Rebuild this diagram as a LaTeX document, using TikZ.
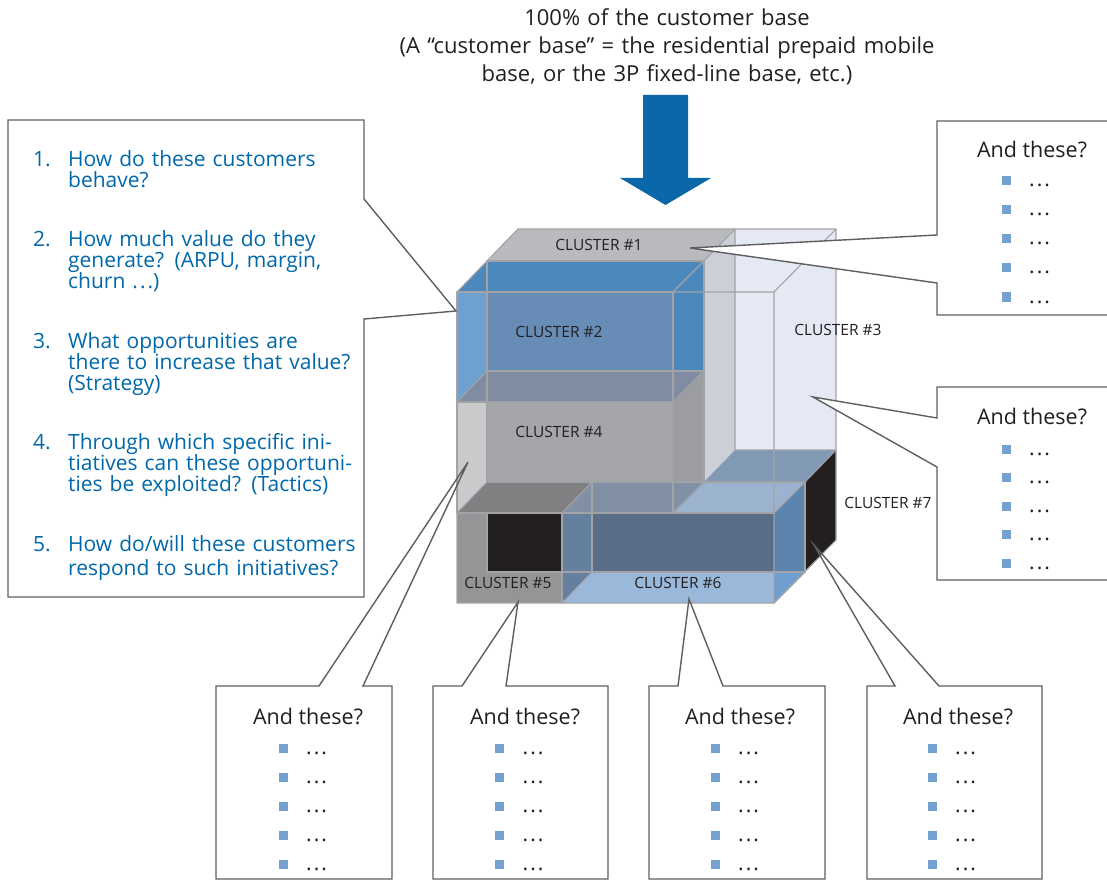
\documentclass[tikz,border=0pt]{standalone}
\usepackage{fontspec}
\setmainfont{Open Sans}
\definecolor{ink}{HTML}{231F20}
\definecolor{qblue}{HTML}{0068AA}
\definecolor{bulletblue}{HTML}{74A1CF}
\definecolor{boxgray}{HTML}{5E5E5E}
\definecolor{edgegray}{HTML}{A2A3A6}
% face colours of the stacked clusters
\definecolor{cOneTop}{HTML}{B9BABE}
\definecolor{cThreeFace}{HTML}{E4E9F3}
\definecolor{cThreeSide}{HTML}{CBD0D8}
\definecolor{cSevenTop}{HTML}{8299B6}
\definecolor{cBlack}{HTML}{231F20}
\definecolor{cTwoRim}{HTML}{4B88BC}
\definecolor{cTwoFront}{HTML}{678DB7}
\definecolor{cTwoLeft}{HTML}{6FA1D0}
\definecolor{cFourRight}{HTML}{9B9DA2}
\definecolor{cFourFront}{HTML}{A5A6A9}
\definecolor{cFourLeft}{HTML}{C9CACC}
\definecolor{cFourTop}{HTML}{7F8CA2}
\definecolor{cFiveTop}{HTML}{808082}
\definecolor{cFiveFront}{HTML}{959597}
\definecolor{cSixTop}{HTML}{9BB3CF}
\definecolor{cSixTopDim}{HTML}{8190A5}
\definecolor{cSixRight}{HTML}{5B84AE}
\definecolor{cSixFloor}{HTML}{9AB8DA}
\definecolor{cSixBack}{HTML}{5B6E87}
\definecolor{cSixLeft}{HTML}{657F9E}
\definecolor{cSixFloorSide}{HTML}{6E9DD0}
\definecolor{arrowblue}{HTML}{0A68AA}

% widely spaced ellipsis
\newcommand{\wdots}{.\kern2pt.\kern2pt.}
% one "And these?" call-out body: name, title x, title baseline, bullet x, first bullet y, bullet step
\newcommand{\andthese}[6]{%
  \node[asktitle] (#1-t) at (#2,#3) {And these?};
  \foreach \k in {0,...,4}{%
    \node[bsq] (#1-b\k) at (#4,{#5+\k*#6}) {};
    \node[dotsty] (#1-d\k) at ({#4+23},{#5+\k*#6+6}) {\wdots};
  }%
}

\begin{document}
\lineskiplimit=-30pt
\begin{tikzpicture}[x=1pt,y=-1pt,
  edge/.style={draw=edgegray,line width=1.1pt,line join=round},
  clabel/.style={font=\fontsize{15.5}{17}\selectfont,text=ink,inner sep=0pt},
  callout/.style={draw=boxgray,line width=1.4pt,line join=miter,fill=white},
  calloutline/.style={draw=boxgray,line width=1.4pt,line join=miter},
  qnum/.style={font=\fontsize{21}{21}\selectfont,text=qblue,anchor=base west,inner sep=0pt},
  qtext/.style={font=\fontsize{21}{21}\selectfont,text=qblue,anchor=base west,inner sep=0pt,align=left,text width=300pt},
  asktitle/.style={font=\fontsize{21.5}{22}\selectfont,text=ink,anchor=base,inner sep=0pt},
  bsq/.style={rectangle,fill=bulletblue,minimum size=9pt,inner sep=0pt,draw=none},
  dotsty/.style={font=\fontsize{21}{21}\selectfont,text=ink,anchor=base west,inner sep=0pt},
  headline/.style={font=\fontsize{22}{28}\selectfont,text=ink,anchor=base,inner sep=0pt,align=center,text width=640pt}
]
\useasboundingbox (0,0) rectangle (1107,882);

% ---------- heading and arrow ----------
\node[headline] (head) at (667,26) {100\% of the customer base\\(A “customer base” = the residential prepaid mobile\\base, or the 3P fixed-line base, etc.)};
\fill[arrowblue] (643,95) -- (688,95) -- (688,178) -- (711,178) -- (665.5,205) -- (620,178) -- (643,178) -- cycle;

% ---------- the cube of clusters ----------
% cluster 3: tall column on the right
\fill[cThreeFace] (673,292) -- (735,229) -- (836,229) -- (836,450) -- (774,513) -- (673,513) -- cycle;
\fill[cThreeSide] (704,261) -- (735,229) -- (735,450) -- (704,482) -- cycle;
% cluster 1: top of the back layer
\fill[cOneTop] (487,261) -- (518,229) -- (735,229) -- (704,261) -- cycle;
% cluster 7: bottom of the back layer
\fill[cSevenTop] (704,482) -- (735,450) -- (836,450) -- (805,482) -- cycle;
\fill[cBlack] (805,482) -- (836,450) -- (836,540) -- (805,572) -- cycle;
% cluster 2
\fill[cTwoRim] (457,292) -- (487,261) -- (704,261) -- (704,371) -- (673,402) -- (457,402) -- cycle;
\fill[cTwoFront] (457,292) rectangle (673,402);
\fill[cTwoLeft] (457,292) -- (487,292) -- (487,371) -- (457,402) -- cycle;
% cluster 4
\fill[cFourRight] (673,402) -- (704,371) -- (704,482) -- (673,513) -- cycle;
\fill[cFourFront] (457,402) rectangle (673,513);
\fill[cFourLeft] (457,402) -- (487,371) -- (487,482) -- (457,513) -- cycle;
\fill[cFourTop] (457,402) -- (487,371) -- (704,371) -- (673,402) -- cycle;
% tops of clusters 5 and 6
\fill[cFiveTop] (457,513) -- (487,482) -- (592,482) -- (562,513) -- cycle;
\fill[cSixTop] (562,513) -- (592,482) -- (805,482) -- (774,513) -- cycle;
\fill[cSixTopDim] (562,513) -- (592,482) -- (704,482) -- (673,513) -- cycle;
% cluster 5
\fill[cFiveFront] (457,513) rectangle (562,603);
\fill[cBlack] (487,513) rectangle (562,572);
% cluster 6
\fill[cSixRight] (774,513) -- (805,482) -- (805,572) -- (774,603) -- cycle;
\fill[cSixFloor] (562,513) rectangle (774,603);
\fill[cSixBack] (592,513) rectangle (774,572);
\fill[cSixLeft] (562,513) -- (592,513) -- (592,572) -- (562,603) -- cycle;
\fill[cSixFloor] (592,572) -- (774,572) -- (774,603) -- (562,603) -- cycle;
\fill[cSixFloorSide] (774,572) -- (805,572) -- (774,603) -- cycle;

% edges
\draw[edge] (457,292) -- (518,229) -- (836,229) -- (836,540) -- (774,603) -- (457,603) -- cycle;
\draw[edge] (487,261) rectangle (704,371);
\draw[edge] (457,292) rectangle (673,402);
\draw[edge] (704,261) -- (673,292) (704,371) -- (673,402) (487,371) -- (457,402);
\draw[edge] (735,229) -- (704,261) (735,229) -- (735,450);
\draw[edge] (673,292) -- (774,292) -- (836,229) (774,292) -- (774,603);
\draw[edge] (487,371) rectangle (704,482);
\draw[edge] (457,402) rectangle (673,513);
\draw[edge] (487,482) -- (457,513) (704,482) -- (673,513);
\draw[edge] (457,513) -- (774,513) (562,513) -- (562,603);
\draw[edge] (487,513) -- (487,572) -- (805,572) -- (805,482) -- (704,482);
\draw[edge] (592,482) -- (592,572);
\draw[edge] (592,482) -- (562,513) (592,572) -- (562,603) (805,572) -- (774,603) (805,482) -- (774,513);
\draw[edge] (735,450) -- (836,450) (805,482) -- (836,450);

% cluster labels
\node[clabel] (k1) at (599,245) {CLUSTER \#1};
\node[clabel] (k2) at (559,332) {CLUSTER \#2};
\node[clabel] (k3) at (838,330) {CLUSTER \#3};
\node[clabel] (k4) at (559,432) {CLUSTER \#4};
\node[clabel] (k5) at (508,583) {CLUSTER \#5};
\node[clabel] (k6) at (678,583) {CLUSTER \#6};
\node[clabel] (k7) at (888,503) {CLUSTER \#7};

% ---------- call-outs ----------
\coordinate (tipQ) at (456,311);
\coordinate (tipA) at (690,248);
\coordinate (tipB) at (813,397);
\coordinate (tipC) at (468,462);
\coordinate (tipD) at (518,602);
\coordinate (tipE) at (689,599);
\coordinate (tipF) at (814,545);

% questions
\path[callout] (8,120) -- (364,120) -- (364,199) -- (tipQ) -- (364,319) -- (364,597) -- (8,597) -- cycle;
\node[qnum] (n1) at (33,167) {1.};
\node[qtext] (q1) at (68,167) {How do these customers\\behave?};
\node[qnum] (n2) at (33,247) {2.};
\node[qtext] (q2) at (68,247) {How much value do they\\generate? (ARPU, margin,\\churn \wdots)};
\node[qnum] (n3) at (33,348) {3.};
\node[qtext] (q3) at (68,348) {What opportunities are\\there to increase that value?\\(Strategy)};
\node[qnum] (n4) at (33,449) {4.};
\node[qtext] (q4) at (68,449) {Through which specific ini-\\tiatives can these opportuni-\\ties be exploited? (Tactics)};
\node[qnum] (n5) at (33,551) {5.};
\node[qtext,font=\fontsize{21}{24}\selectfont] (q5) at (68,551) {How do/will these customers\\respond to such initiatives?};

% right-hand call-outs
\path[callout] (1130,121) -- (937,121) -- (937,235) -- (tipA) -- (937,283) -- (937,315) -- (1130,315) -- cycle;
\andthese{A}{1032}{158}{1006}{181}{29}
\path[callout] (1130,387) -- (937,387) -- (937,418) -- (tipB) -- (937,467) -- (937,580) -- (1130,580) -- cycle;
\andthese{B}{1032}{424}{1006}{449}{28.5}

% call-outs below the cube
\fill[white] (216,686) rectangle (392,879);
\draw[calloutline] (216,686) -- (319,686) -- (tipC) -- (363,686) -- (392,686) -- (392,879) -- (216,879) -- cycle;
\andthese{C}{308}{724}{283}{748}{29.2}
\fill[white] (433,686) rectangle (608,879);
\draw[calloutline] (433,686) -- (462,686) -- (tipD) -- (506,686) -- (608,686) -- (608,879) -- (433,879) -- cycle;
\andthese{D}{525}{724}{499.5}{748}{29.2}
\fill[white] (649,686) rectangle (825,879);
\draw[calloutline] (649,686) -- (678,686) -- (tipE) -- (723,686) -- (825,686) -- (825,879) -- (649,879) -- cycle;
\andthese{E}{740}{724}{715}{748}{29.2}
\fill[white] (867,686) rectangle (1042,879);
\draw[calloutline] (867,686) -- (895,686) -- (tipF) -- (939,686) -- (1042,686) -- (1042,879) -- (867,879) -- cycle;
\andthese{F}{958}{724}{932}{748}{29.2}
\end{tikzpicture}
\end{document}
